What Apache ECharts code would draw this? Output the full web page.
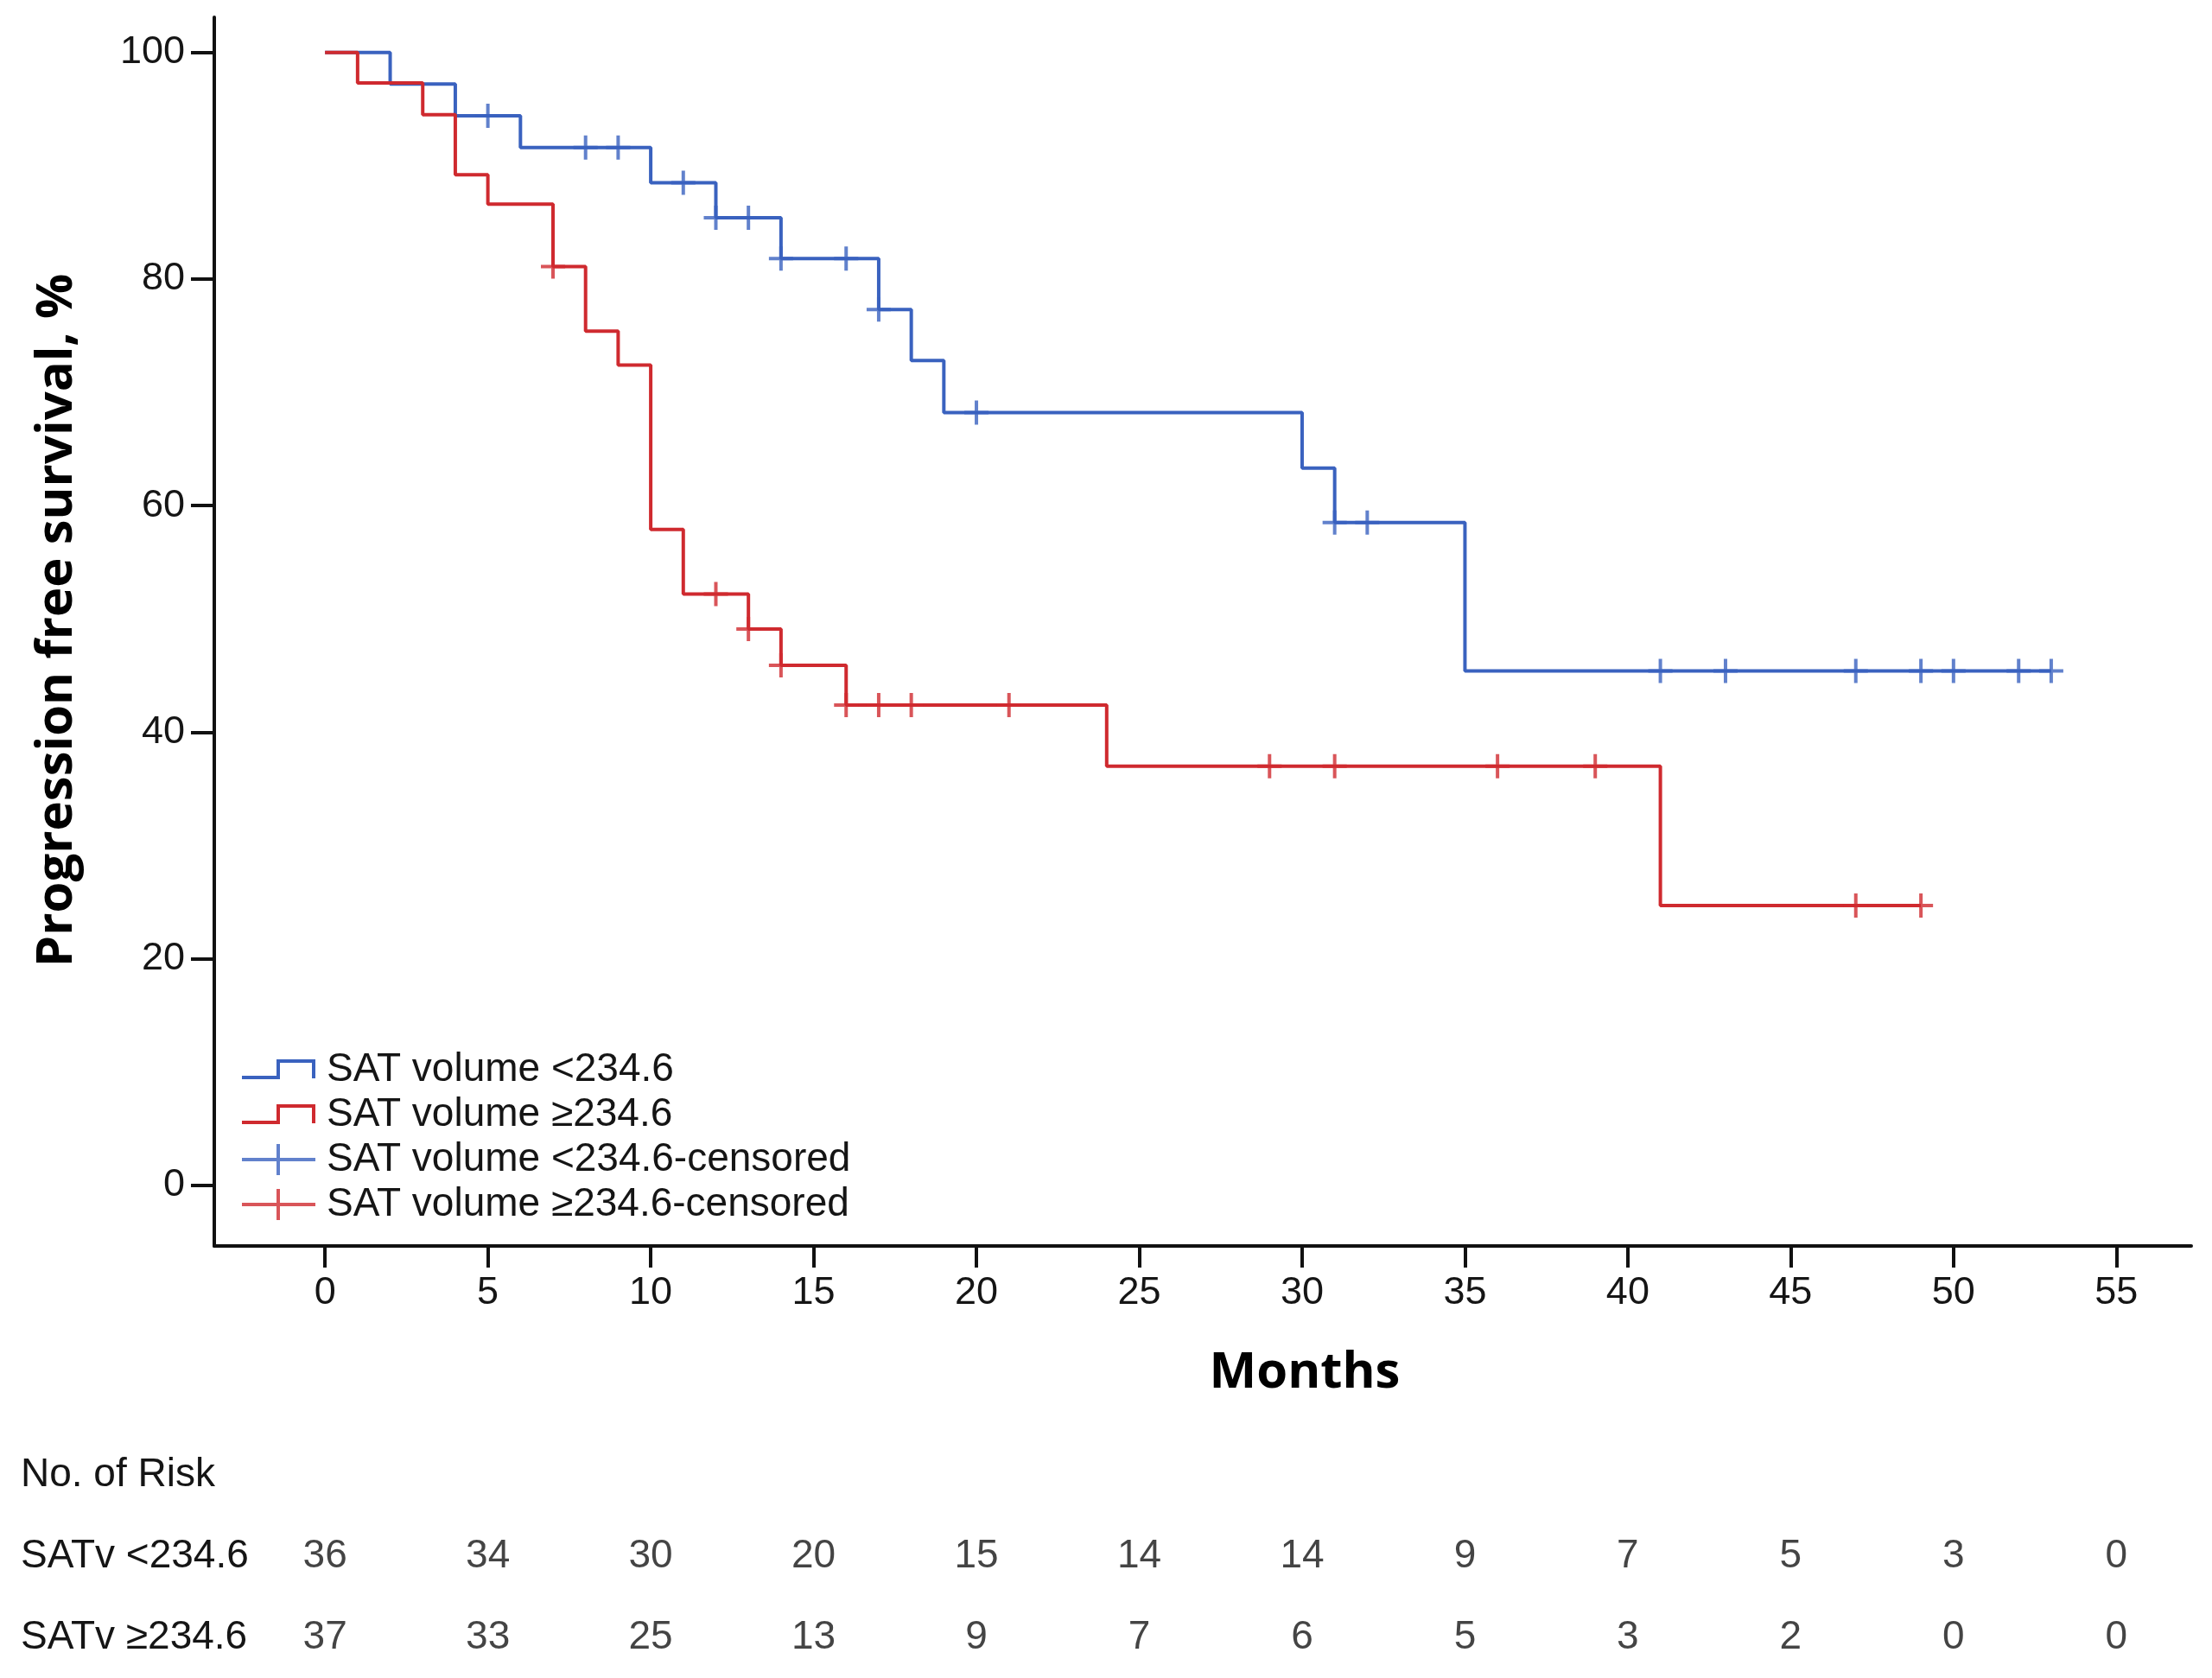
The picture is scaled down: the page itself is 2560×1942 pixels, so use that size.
<!DOCTYPE html>
<html><head><meta charset="utf-8">
<script src="https://cdn.jsdelivr.net/npm/echarts@6/dist/echarts.min.js"></script>
<style>html,body{margin:0;padding:0;background:#fff}#c{width:2560px;height:1942px}</style>
</head><body><div id="c"></div>
<script>
// ---- data ----
const blueName = 'SAT volume <234.6';
const redName = 'SAT volume \u2265234.6';
const blueCensName = 'SAT volume <234.6-censored';
const redCensName = 'SAT volume \u2265234.6-censored';

const blueTimes = [0, 2, 4, 6, 10, 12, 14, 17, 18, 19, 30, 31, 35, 53];
const blueSurv  = [100, 97.2, 94.4, 91.6, 88.5, 85.4, 81.8, 77.3, 72.8, 68.2, 63.3, 58.5, 45.4, 45.4];
const blueCensTimes = [5, 8, 9, 11, 12, 13, 14, 16, 17, 20, 31, 32, 41, 43, 47, 49, 50, 52, 53];
const blueCensSurv  = [94.4, 91.6, 91.6, 88.5, 85.4, 85.4, 81.8, 81.8, 77.3, 68.2, 58.5, 58.5, 45.4, 45.4, 45.4, 45.4, 45.4, 45.4, 45.4];

const redTimes = [0, 1, 3, 4, 5, 7, 8, 9, 10, 11, 13, 14, 16, 24, 41, 49];
const redSurv  = [100, 97.3, 94.5, 89.2, 86.6, 81.1, 75.4, 72.4, 57.9, 52.2, 49.1, 45.9, 42.4, 37.0, 24.7, 24.7];
const redCensTimes = [7, 12, 13, 14, 16, 17, 18, 21, 29, 31, 36, 39, 47, 49];
const redCensSurv  = [81.1, 52.2, 49.1, 45.9, 42.4, 42.4, 42.4, 42.4, 37.0, 37.0, 37.0, 37.0, 24.7, 24.7];

const xTicks = [0, 5, 10, 15, 20, 25, 30, 35, 40, 45, 50, 55];
const yTicks = [0, 20, 40, 60, 80, 100];

const riskHeader = 'No. of Risk';
const riskRowBlue = 'SATv <234.6';
const riskRowRed = 'SATv \u2265234.6';
const riskTimes = [0, 5, 10, 15, 20, 25, 30, 35, 40, 45, 50, 55];
const blueRisk = [36, 34, 30, 20, 15, 14, 14, 9, 7, 5, 3, 0];
const redRisk  = [37, 33, 25, 13, 9, 7, 6, 5, 3, 2, 0, 0];

// ---- styling ----
const BLUE = '#3a62bf';
const RED = '#cf2a2f';
const TXT = '#151515';
const X_MIN = -3.4, X_MAX = 57.3, Y_MIN = -5.35, Y_MAX = 103.1;

const crossSym = 'path://M0,12 L28,12 L28,16 L0,16 Z M12,0 L16,0 L16,28 L12,28 Z';
const stepIcon = 'path://M84.9,0 L85,0 L85,0.1 Z M0,25 L40,25 L40,6 L85,6 L85,28 L81,28 L81,10 L44,10 L44,29 L0,29 Z M84.9,36 L85,36 L85,35.9 Z';
const censIcon = 'path://M0,16 L40,16 L40,0 L44,0 L44,16 L85,16 L85,20 L44,20 L44,36 L40,36 L40,20 L0,20 Z';

const pair = (xs, ys) => xs.map((x, i) => [x, ys[i]]);
const riskData = riskTimes.map((t, i) => [t, riskRowBlue, blueRisk[i]])
  .concat(riskTimes.map((t, i) => [t, riskRowRed, redRisk[i]]));

const chart = echarts.init(document.getElementById('c'));
chart.setOption({
  animation: false,
  backgroundColor: '#ffffff',
  grid: [
    { left: 248, top: 20, width: 2288, height: 1422 },
    { left: 248, top: 1660, width: 2288, height: 282 }
  ],
  legend: {
    orient: 'vertical', left: 275, top: 1210,
    itemWidth: 85, itemHeight: 36, itemGap: 6,
    itemStyle: { borderWidth: 0 },
    textStyle: { fontFamily: 'Liberation Sans', fontSize: 46, color: TXT, padding: [0, 0, 0, 8] },
    data: [
      { name: blueName, icon: stepIcon },
      { name: redName, icon: stepIcon },
      { name: blueCensName, icon: censIcon },
      { name: redCensName, icon: censIcon }
    ]
  },
  xAxis: [{
    type: 'value', gridIndex: 0, min: X_MIN, max: X_MAX,
    splitLine: { show: false },
    axisLine: { onZero: false, lineStyle: { color: '#111', width: 4 } },
    axisTick: { show: true, length: 25, lineStyle: { color: '#111', width: 4 }, customValues: xTicks },
    axisLabel: { fontFamily: 'Liberation Sans', fontSize: 45, color: TXT, margin: 32, customValues: xTicks },
    name: 'Months', nameLocation: 'middle', nameGap: 118,
    nameTextStyle: { fontFamily: 'Open Sans', fontWeight: 'bold', fontSize: 58, color: '#000', padding: [0, 0, 0, 236] }
  }, {
    type: 'value', gridIndex: 1, min: X_MIN, max: X_MAX, show: false
  }],
  yAxis: [{
    type: 'value', gridIndex: 0, min: Y_MIN, max: Y_MAX,
    splitLine: { show: false },
    axisLine: { show: true, onZero: false, lineStyle: { color: '#111', width: 4 } },
    axisTick: { show: true, length: 27, lineStyle: { color: '#111', width: 4 }, customValues: yTicks },
    axisLabel: { fontFamily: 'Liberation Sans', fontSize: 45, color: TXT, margin: 34, customValues: yTicks },
    name: 'Progression free survival, %', nameLocation: 'middle', nameRotate: 90, nameGap: 153,
    nameTextStyle: { fontFamily: 'Open Sans', fontWeight: 'bold', fontSize: 58, color: '#000', padding: [0, 0, 0, 26] }
  }, {
    type: 'category', gridIndex: 1, inverse: true,
    data: [riskHeader, riskRowBlue, riskRowRed],
    axisLine: { show: false }, axisTick: { show: false }, splitLine: { show: false },
    axisLabel: { align: 'left', margin: 224, fontFamily: 'Liberation Sans', fontSize: 46, color: TXT }
  }],
  series: [
    {
      name: blueName, type: 'line', step: 'end', xAxisIndex: 0, yAxisIndex: 0,
      symbol: 'none', data: pair(blueTimes, blueSurv), z: 3,
      itemStyle: { color: BLUE }, lineStyle: { color: BLUE, width: 4 }
    },
    {
      name: redName, type: 'line', step: 'end', xAxisIndex: 0, yAxisIndex: 0,
      symbol: 'none', data: pair(redTimes, redSurv), z: 3,
      itemStyle: { color: RED }, lineStyle: { color: RED, width: 4 }
    },
    {
      name: blueCensName, type: 'scatter', xAxisIndex: 0, yAxisIndex: 0,
      symbol: crossSym, symbolSize: 28, data: pair(blueCensTimes, blueCensSurv), z: 4,
      itemStyle: { color: BLUE }
    },
    {
      name: redCensName, type: 'scatter', xAxisIndex: 0, yAxisIndex: 0,
      symbol: crossSym, symbolSize: 28, data: pair(redCensTimes, redCensSurv), z: 4,
      itemStyle: { color: RED }
    },
    {
      name: 'risk', type: 'scatter', xAxisIndex: 1, yAxisIndex: 1,
      symbolSize: 1, itemStyle: { color: 'rgba(0,0,0,0)' },
      data: riskData, silent: true,
      label: {
        show: true, position: 'inside', formatter: p => String(p.value[2]),
        fontFamily: 'Liberation Sans', fontSize: 46, color: TXT
      }
    }
  ]
});
</script>
</body></html>
